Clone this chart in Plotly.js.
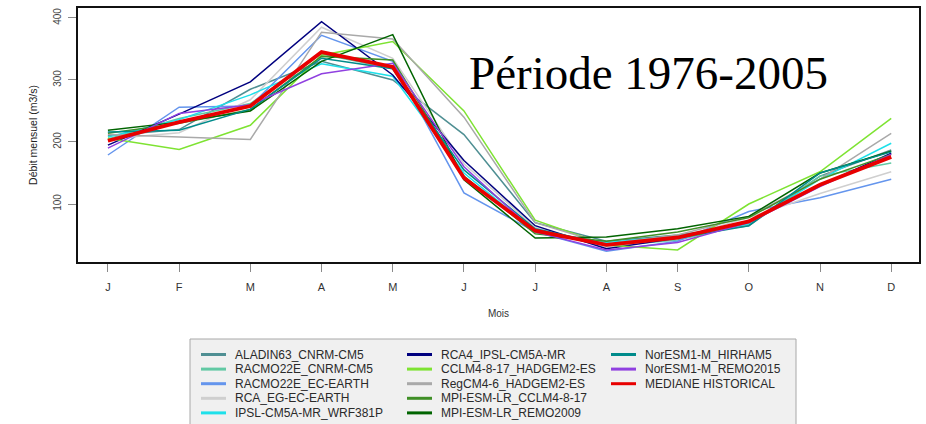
<!DOCTYPE html>
<html>
<head>
<meta charset="utf-8">
<script src="https://cdn.plot.ly/plotly-3.0.1.min.js"></script>
<style>html,body{margin:0;padding:0;background:#fff}#chart{width:926px;height:424px}</style>
</head>
<body>
<div id="chart"></div>
<script>
// ---- Data ----
const monthLabels = ['J','F','M','A','M','J','J','A','S','O','N','D'];
const monthIndex = [0,1,2,3,4,5,6,7,8,9,10,11];

const seriesNames = [
  'ALADIN63_CNRM-CM5',
  'RACMO22E_CNRM-CM5',
  'RACMO22E_EC-EARTH',
  'RCA_EG-EC-EARTH',
  'IPSL-CM5A-MR_WRF381P',
  'RCA4_IPSL-CM5A-MR',
  'CCLM4-8-17_HADGEM2-ES',
  'RegCM4-6_HADGEM2-ES',
  'MPI-ESM-LR_CCLM4-8-17',
  'MPI-ESM-LR_REMO2009',
  'NorESM1-M_HIRHAM5',
  'NorESM1-M_REMO2015',
  'MEDIANE HISTORICAL'
];

const aladin63_cnrm      = [210, 220, 285, 330, 300, 212, 70, 40, 50, 65, 145, 187];
const racmo22e_cnrm      = [205, 238, 262, 342, 318, 142, 58, 32, 42, 68, 145, 166];
const racmo22e_ecearth   = [179, 256, 258, 372, 330, 118, 55, 24, 40, 88, 110, 140];
const rca_eg_ecearth     = [205, 215, 268, 385, 335, 165, 62, 30, 45, 78, 117, 152];
const ipsl_wrf381p       = [208, 236, 276, 326, 306, 150, 56, 38, 48, 68, 140, 198];
const rca4_ipsl          = [195, 245, 297, 394, 308, 170, 65, 28, 45, 72, 130, 182];
const cclm4_hadgem2      = [206, 188, 227, 340, 362, 250, 74, 34, 26, 100, 152, 238];
const regcm4_hadgem2     = [212, 208, 204, 377, 366, 240, 70, 35, 50, 80, 140, 214];
const mpi_cclm4          = [214, 230, 252, 338, 332, 145, 52, 40, 55, 78, 140, 180];
const mpi_remo2009       = [219, 232, 250, 330, 373, 139, 45, 47, 60, 80, 150, 185];
const noresm_hirham5     = [216, 219, 253, 335, 318, 155, 60, 35, 45, 65, 150, 184];
const noresm_remo2015    = [190, 246, 260, 310, 327, 160, 55, 26, 38, 70, 128, 180];
const mediane_historical = [202, 232, 258, 345, 321, 142, 57, 34, 46, 72, 131, 176];

const seriesValues = [
  aladin63_cnrm, racmo22e_cnrm, racmo22e_ecearth, rca_eg_ecearth, ipsl_wrf381p,
  rca4_ipsl, cclm4_hadgem2, regcm4_hadgem2, mpi_cclm4, mpi_remo2009,
  noresm_hirham5, noresm_remo2015, mediane_historical
];

const seriesColors = [
  '#4f8f93', '#62c9a4', '#6495ed', '#cfcfcf', '#1ee0ea',
  '#00007f', '#7ee332', '#a9a9a9', '#3f8f26', '#006400',
  '#008b8b', '#9040e0', '#e80000'
];

const yTicks = [100, 200, 300, 400];
const titleText = 'Période 1976-2005';
const xTitle = 'Mois';
const yTitle = 'Débit mensuel (m3/s)';

// ---- Geometry ----
const W = 926, H = 424;
const M = {l: 78, r: 7, t: 8, b: 162};
const PW = W - M.l - M.r, PH = H - M.t - M.b;
const px2x = p => (p - M.l) / PW;
const py2y = p => (H - M.b - p) / PH;

const traces = seriesNames.map((name, i) => ({
  type: 'scatter',
  mode: 'lines',
  name: name,
  x: monthIndex,
  y: seriesValues[i],
  line: {color: seriesColors[i], width: i === seriesNames.length - 1 ? 3.8 : 1.5},
  showlegend: false,
  hoverinfo: 'skip'
}));

// ---- Manual legend (3 columns filled top to bottom, 5 rows) ----
const shapes = [];
const annotations = [];
shapes.push({
  type: 'rect', xref: 'paper', yref: 'paper',
  x0: px2x(190), x1: px2x(796), y0: py2y(339), y1: py2y(440),
  fillcolor: '#f0f0f0', line: {color: '#a8a8a8', width: 1}, layer: 'above'
});
const colX = [201, 407, 611];
const rowsPerCol = 5;
const rowY0 = 354.5, rowStep = 14.6;
seriesNames.forEach((name, i) => {
  const c = Math.floor(i / rowsPerCol), r = i % rowsPerCol;
  const yy = rowY0 + r * rowStep;
  shapes.push({
    type: 'line', xref: 'paper', yref: 'paper',
    x0: px2x(colX[c]), x1: px2x(colX[c] + 25), y0: py2y(yy), y1: py2y(yy),
    line: {color: seriesColors[i], width: 3}, layer: 'above'
  });
  annotations.push({
    xref: 'paper', yref: 'paper', x: px2x(colX[c] + 32), y: py2y(yy),
    xanchor: 'left', yanchor: 'middle', showarrow: false,
    text: name, font: {family: 'Liberation Sans, Arial, sans-serif', size: 12, color: '#2a2a2a'}
  });
});

annotations.push({
  xref: 'paper', yref: 'paper', x: px2x(648), y: py2y(73),
  xanchor: 'center', yanchor: 'middle', showarrow: false,
  text: titleText,
  font: {family: 'Liberation Serif, Times New Roman, serif', size: 47, color: '#000'}
});

const layout = {
  width: W, height: H,
  margin: M,
  paper_bgcolor: '#ffffff',
  plot_bgcolor: '#ffffff',
  showlegend: false,
  font: {family: 'Liberation Sans, Arial, sans-serif', color: '#333'},
  xaxis: {
    range: [-0.42, 11.39],
    tickvals: monthIndex,
    ticktext: monthLabels,
    ticks: 'outside', ticklen: 8, tickwidth: 1, tickcolor: '#8a8a8a',
    tickfont: {size: 11, color: '#333'},
    ticklabelstandoff: 6,
    showline: true, linecolor: '#111', linewidth: 2, mirror: true,
    showgrid: false, zeroline: false, fixedrange: true,
    title: {text: xTitle, font: {size: 10, color: '#333'}, standoff: 18}
  },
  yaxis: {
    range: [6.5, 416],
    tickvals: yTicks,
    ticktext: yTicks.map(String),
    tickangle: -90,
    ticks: 'outside', ticklen: 8, tickwidth: 1, tickcolor: '#8a8a8a',
    tickfont: {size: 10, color: '#444'},
    ticklabelstandoff: 3,
    showline: true, linecolor: '#111', linewidth: 2, mirror: true,
    showgrid: false, zeroline: false, fixedrange: true,
    title: {text: yTitle, font: {size: 10.5, color: '#222'}, standoff: 12}
  },
  shapes: shapes,
  annotations: annotations
};

Plotly.newPlot('chart', traces, layout, {displayModeBar: false, staticPlot: true});
</script>
</body>
</html>
